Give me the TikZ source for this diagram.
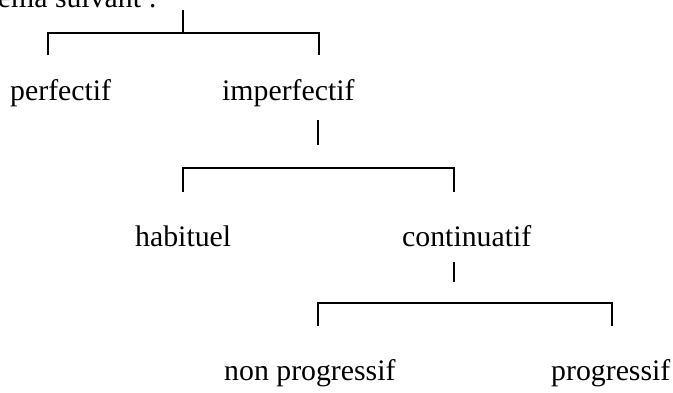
\documentclass[tikz,border=0pt]{standalone}
\usepackage{fontspec}
\setmainfont{Liberation Serif}
\begin{document}
\begin{tikzpicture}[x=1pt,y=-1pt,
  lbl/.style={anchor=base west,inner sep=0pt,font=\fontsize{29.8}{36}\selectfont},
  tree/.style={line width=1.5pt}]
\useasboundingbox (0,0) rectangle (673,392);
\clip (0,0) rectangle (673,392);
\node[anchor=base east,inner sep=0pt,font=\fontsize{29.8}{36}\selectfont] (head) at (157,7) {schéma suivant :};
\node[lbl] (perf) at (10,100) {perfectif};
\node[lbl] (imperf) at (222,100) {imperfectif};
\node[lbl] (hab) at (135,246) {habituel};
\node[lbl] (cont) at (402,246) {continuatif};
\node[lbl] (nonprog) at (224,380) {non progressif};
\node[lbl] (prog) at (551,380) {progressif};
% tree 1
\coordinate (t1) at (183,10);
\coordinate (b1l) at (48,55);
\coordinate (b1r) at (319,55);
\draw[tree] (t1) -- (183,33);
\draw[tree] (b1l) |- (b1r |- 0,33) -- (b1r);
% tree 2
\coordinate (t2) at (318,120);
\coordinate (b2l) at (183,192);
\coordinate (b2r) at (454,192);
\draw[tree] (t2) -- (318,145);
\draw[tree] (b2l) |- (b2r |- 0,168) -- (b2r);
% tree 3
\coordinate (t3) at (454,262);
\coordinate (b3l) at (318,326);
\coordinate (b3r) at (612,326);
\draw[tree] (t3) -- (454,282);
\draw[tree] (b3l) |- (b3r |- 0,303) -- (b3r);
\end{tikzpicture}
\end{document}
